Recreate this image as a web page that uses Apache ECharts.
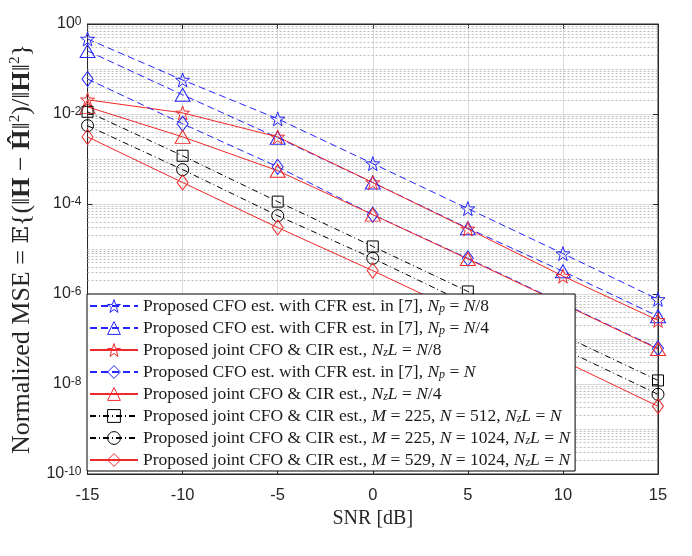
<!DOCTYPE html>
<html>
<head>
<meta charset="utf-8">
<script src="https://cdn.jsdelivr.net/npm/echarts@6/dist/echarts.min.js"></script>
<style>
  html, body { margin: 0; padding: 0; background: #fff; }
  #main { width: 692px; height: 556px; }
</style>
</head>
<body>
<div id="main"></div>
<script>
// SNR points (dB)
var snr = [-15, -10, -5, 0, 5, 10, 15];

// normalized MSE
var cfoCfrN8  = [0.465, 0.057, 7.8e-3, 7.9e-4, 7.9e-5, 7.9e-6, 7.6e-7];
var cfoCfrN4  = [0.252, 0.0267, 2.97e-3, 3.0e-4, 2.9e-5, 3.2e-6, 3.2e-7];
var jointN8   = [0.0207, 0.0106, 3.1e-3, 3.0e-4, 2.8e-5, 2.5e-6, 2.6e-7];
var cfoCfrN   = [0.060, 6.07e-3, 6.7e-4, 5.8e-5, 6.2e-6, 6.2e-7, 6.2e-8];
var jointN4   = [0.0144, 3.1e-3, 5.5e-4, 5.8e-5, 6.0e-6, 6.0e-7, 6.0e-8];
var joint225_512  = [0.0112, 1.18e-3, 1.13e-4, 1.14e-5, 1.14e-6, 1.2e-7, 1.2e-8];
var joint225_1024 = [5.5e-3, 5.8e-4, 5.5e-5, 6.2e-6, 6.0e-7, 6.0e-8, 5.9e-9];
var joint529_1024 = [3.1e-3, 3.0e-4, 3.0e-5, 3.3e-6, 3.3e-7, 3.3e-8, 3.2e-9];

var names = [
    'Proposed CFO est. with CFR est. in [7], Np = N/8',
    'Proposed CFO est. with CFR est. in [7], Np = N/4',
    'Proposed joint CFO & CIR est., NzL = N/8',
    'Proposed CFO est. with CFR est. in [7], Np = N',
    'Proposed joint CFO & CIR est., NzL = N/4',
    'Proposed joint CFO & CIR est., M = 225, N = 512, NzL = N',
    'Proposed joint CFO & CIR est., M = 225, N = 1024, NzL = N',
    'Proposed joint CFO & CIR est., M = 529, N = 1024, NzL = N'
];
var richNames = [
    'Proposed CFO est. with CFR est. in [7], {i|N}{sub|p} = {i|N}/8',
    'Proposed CFO est. with CFR est. in [7], {i|N}{sub|p} = {i|N}/4',
    'Proposed joint CFO & CIR est., {i|N}{sub|z}{i|L} = {i|N}/8',
    'Proposed CFO est. with CFR est. in [7], {i|N}{sub|p} = {i|N}',
    'Proposed joint CFO & CIR est., {i|N}{sub|z}{i|L} = {i|N}/4',
    'Proposed joint CFO & CIR est., {i|M} = 225, {i|N} = 512, {i|N}{sub|z}{i|L} = {i|N}',
    'Proposed joint CFO & CIR est., {i|M} = 225, {i|N} = 1024, {i|N}{sub|z}{i|L} = {i|N}',
    'Proposed joint CFO & CIR est., {i|M} = 529, {i|N} = 1024, {i|N}{sub|z}{i|L} = {i|N}'
];

var BLUE = '#2424ff';
var RED = '#f02828';
var BLACK = '#000000';
var AXIS = '#262626';
var starPath = 'path://M0,-10L2.35,-3.24L9.51,-3.09L3.8,1.24L5.88,8.09L0,4L-5.88,8.09L-3.8,1.24L-9.51,-3.09L-2.35,-3.24Z';

var dashed = [7, 4];
var dashDot = [6, 3, 1, 3];

function pairs(vals) {
    var out = [];
    for (var i = 0; i < snr.length; i++) {
        out.push([snr[i], vals[i]]);
    }
    return out;
}

function makeSeries(name, vals, color, lineType, symbol, size) {
    return {
        name: name,
        type: 'line',
        data: pairs(vals),
        symbol: symbol,
        symbolSize: size,
        showAllSymbol: true,
        clip: false,
        z: 3,
        lineStyle: { color: color, width: 1, type: lineType },
        itemStyle: { color: 'rgba(0,0,0,0)', borderColor: color, borderWidth: 1 },
        emphasis: { disabled: true }
    };
}

// minor log grid (2..9 x 10^k and the unlabeled decades)
var minorGrid = [];
for (var e = -10; e < 0; e++) {
    for (var k = 1; k < 10; k++) {
        if (k === 1 && e % 2 === 0) continue;
        var v = k * Math.pow(10, e);
        minorGrid.push({ coords: [[-15, v], [15, v]] });
    }
}

var myChart = echarts.init(document.getElementById('main'));

var option = {
    animation: false,
    backgroundColor: '#fff',
    grid: {
        left: 86,
        right: 34,
        top: 24,
        bottom: 82,
        show: true,
        borderColor: AXIS,
        borderWidth: 1,
        backgroundColor: 'transparent'
    },
    legend: {
        data: names,
        orient: 'vertical',
        left: 87,
        top: 294,
        itemWidth: 48,
        itemHeight: 16,
        itemGap: 4,
        padding: [3, 5, 2, 2],
        backgroundColor: '#fff',
        borderColor: '#000',
        borderWidth: 1,
        borderRadius: 0,
        selectedMode: false,
        z: 10,
        itemStyle: { color: 'rgba(0,0,0,0)', borderWidth: 1 },
        formatter: function (name) {
            return richNames[names.indexOf(name)];
        },
        textStyle: {
            fontFamily: 'Liberation Serif',
            fontSize: 17.5,
            lineHeight: 17,
            color: '#1a1a1a',
            rich: {
                i: { fontFamily: 'Liberation Serif', fontStyle: 'italic', fontSize: 17.5, color: '#1a1a1a', lineHeight: 17 },
                sub: { fontFamily: 'Liberation Serif', fontStyle: 'italic', fontSize: 12, color: '#1a1a1a', lineHeight: 10, verticalAlign: 'bottom' }
            }
        }
    },
    xAxis: [{
        type: 'value',
        min: -15,
        max: 15,
        interval: 5,
        name: 'SNR [dB]',
        nameLocation: 'middle',
        nameGap: 34,
        nameTextStyle: { fontFamily: 'Liberation Serif', fontSize: 20, color: AXIS },
        axisLine: { show: true, onZero: false, lineStyle: { color: AXIS } },
        axisTick: { show: true, inside: true, length: 5, lineStyle: { color: AXIS } },
        axisLabel: { fontFamily: 'Liberation Sans', fontSize: 16.5, color: AXIS, margin: 13 },
        splitLine: { show: true, lineStyle: { color: '#dadada', width: 1 } }
    }, {
        type: 'value',
        position: 'top',
        min: -15,
        max: 15,
        interval: 5,
        axisLine: { show: true, onZero: false, lineStyle: { color: AXIS } },
        axisTick: { show: true, inside: true, length: 5, lineStyle: { color: AXIS } },
        axisLabel: { show: false },
        splitLine: { show: false }
    }],
    yAxis: [{
        type: 'log',
        logBase: 10,
        min: 1e-10,
        max: 1,
        interval: 2,
        name: 'Normalized MSE = {bb|𝔼}{(‖{b|H} − {b|Ĥ}‖{sup|2})/‖{b|H}‖{sup|2}}',
        nameLocation: 'middle',
        nameGap: 44,
        nameTextStyle: {
            fontFamily: 'Liberation Serif',
            fontSize: 26,
            color: AXIS,
            rich: {
                b: { fontFamily: 'Liberation Serif', fontWeight: 'bold', fontSize: 26, color: AXIS, lineHeight: 29 },
                bb: { fontFamily: 'DejaVu Serif', fontSize: 23, color: AXIS, lineHeight: 29 },
                sup: { fontFamily: 'Liberation Serif', fontSize: 15, color: AXIS, lineHeight: 14, verticalAlign: 'top' }
            }
        },
        axisLine: { show: true, onZero: false, lineStyle: { color: AXIS } },
        axisTick: { show: true, inside: true, length: 5, lineStyle: { color: AXIS } },
        axisLabel: {
            fontFamily: 'Liberation Sans',
            fontSize: 16,
            color: AXIS,
            margin: 6,
            formatter: function (v) {
                return '10{sup|' + Math.round(Math.log10(v)) + '}';
            },
            rich: {
                sup: { fontFamily: 'Liberation Sans', fontSize: 12, color: AXIS, lineHeight: 10, verticalAlign: 'top' }
            }
        },
        splitLine: { show: true, lineStyle: { color: '#dadada', width: 1 } }
    }, {
        type: 'log',
        logBase: 10,
        min: 1e-10,
        max: 1,
        interval: 2,
        position: 'right',
        axisLine: { show: true, onZero: false, lineStyle: { color: AXIS } },
        axisTick: { show: true, inside: true, length: 5, lineStyle: { color: AXIS } },
        axisLabel: { show: false },
        splitLine: { show: false }
    }],
    series: [
        {
            name: 'minor grid',
            type: 'lines',
            coordinateSystem: 'cartesian2d',
            xAxisIndex: 0,
            yAxisIndex: 0,
            silent: true,
            z: 1,
            lineStyle: { color: '#bdbdbd', width: 1, type: [2, 2], opacity: 1 },
            data: minorGrid
        },
        makeSeries(names[0], cfoCfrN8, BLUE, dashed, starPath, 14),
        makeSeries(names[1], cfoCfrN4, BLUE, dashed, 'triangle', [15, 13]),
        makeSeries(names[2], jointN8, RED, 'solid', starPath, 14),
        makeSeries(names[3], cfoCfrN, BLUE, dashed, 'diamond', [11, 15]),
        makeSeries(names[4], jointN4, RED, 'solid', 'triangle', [15, 13]),
        makeSeries(names[5], joint225_512, BLACK, dashDot, 'rect', [11, 11]),
        makeSeries(names[6], joint225_1024, BLACK, dashDot, 'circle', [12, 12]),
        makeSeries(names[7], joint529_1024, RED, 'solid', 'diamond', [11, 15])
    ]
};

myChart.setOption(option);
</script>
</body>
</html>
